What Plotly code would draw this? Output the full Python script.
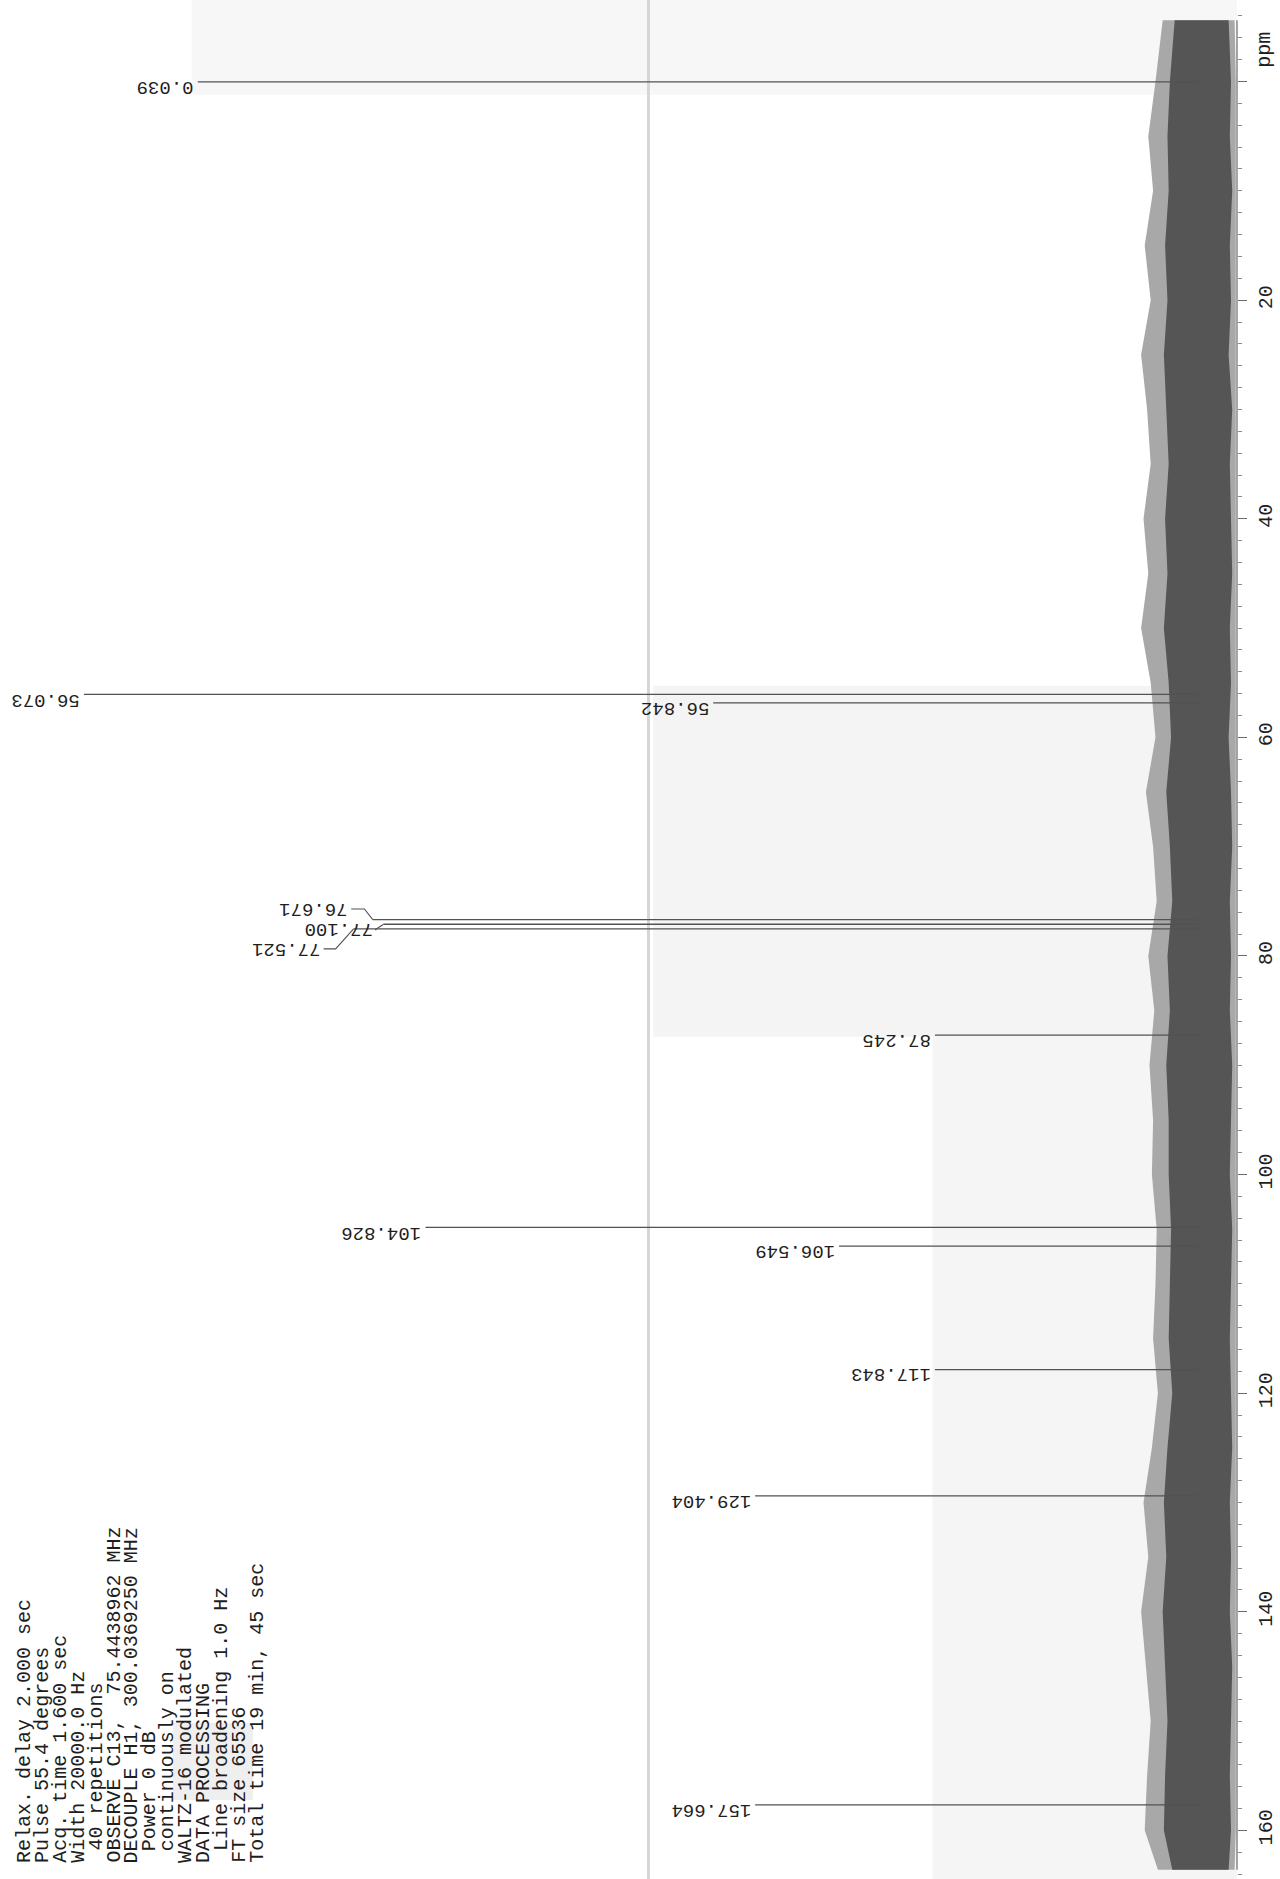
import plotly.graph_objects as go

# ---- data -------------------------------------------------------------
# 13C shifts of the labelled peaks (ppm) and their relative heights
peak_ppm = [0.039, 56.073, 56.842, 76.671, 77.100, 77.521, 87.245,
            104.826, 106.549, 117.843, 129.404, 157.664]
peak_height = [83.5, 93.0, 40.5, 68.9, 68.0, 70.5, 22.0,
               64.5, 30.0, 22.0, 37.0, 37.0]

# baseline noise envelope (relative intensity) along the shift axis
noise_ppm = [-5.6, 0, 5, 10, 15, 20, 25, 30, 35, 40, 45, 50, 55, 60, 65, 70,
             75, 80, 85, 90, 95, 100, 105, 110, 115, 120, 125, 130, 135, 140,
             145, 150, 155, 160, 163.6]
noise_outer_left = [3.0, 3.6, 4.2, 3.8, 4.5, 4.0, 4.8, 4.3, 4.0, 4.6, 4.2, 4.8,
                    4.0, 3.6, 4.4, 3.8, 3.5, 4.2, 3.7, 4.1, 3.8, 3.9, 3.5, 3.6,
                    3.8, 3.4, 3.9, 4.6, 4.2, 4.8, 4.4, 4.0, 4.3, 4.5, 3.4]
noise_inner_left = [2.0, 2.4, 2.6, 2.5, 2.8, 2.6, 2.9, 2.7, 2.5, 2.8, 2.6, 2.9,
                    2.5, 2.3, 2.7, 2.4, 2.2, 2.6, 2.4, 2.7, 2.5, 2.5, 2.3, 2.4,
                    2.5, 2.2, 2.6, 2.9, 2.7, 3.0, 2.8, 2.6, 2.8, 2.9, 2.2]
noise_inner_right = [-2.5, -2.7, -2.6, -2.8, -2.6, -2.7, -2.5, -2.8, -2.6, -2.7,
                     -2.8, -2.6, -2.7, -2.5, -2.7, -2.8, -2.6, -2.7, -2.6, -2.8,
                     -2.7, -2.6, -2.8, -2.7, -2.6, -2.7, -2.8, -2.6, -2.7, -2.6,
                     -2.8, -2.7, -2.6, -2.7, -2.5]
noise_outer_right = [-3.0, -3.1, -3.1, -3.1, -3.1, -3.1, -3.1, -3.1, -3.1, -3.1,
                     -3.1, -3.1, -3.1, -3.1, -3.1, -3.1, -3.1, -3.1, -3.1, -3.1,
                     -3.1, -3.1, -3.1, -3.1, -3.1, -3.1, -3.1, -3.1, -3.1, -3.1,
                     -3.1, -3.1, -3.1, -3.1, -3.0]

major_ticks = [0, 20, 40, 60, 80, 100, 120, 140, 160]
major_labels = ["", "20", "40", "60", "80", "100", "120", "140", "160"]

acq_params = [
    "Relax. delay 2.000 sec",
    "Pulse 55.4 degrees",
    "Acq. time 1.600 sec",
    "Width 20000.0 Hz",
    "\u00a040 repetitions",
    "OBSERVE C13,\u00a0\u00a075.4438962 MHz",
    "DECOUPLE H1, 300.0369250 MHz",
    "\u00a0Power 0 dB",
    "\u00a0continuously on",
    "WALTZ-16 modulated",
    "DATA PROCESSING",
    "\u00a0Line broadening 1.0 Hz",
    "FT size 65536",
    "Total time 19 min, 45 sec",
]

# ---- page geometry ----------------------------------------------------
W, H = 1280, 1879
R_MARGIN = 43
PLOT_W = W - R_MARGIN
X_RANGE = [100, -3.2]          # intensity, growing to the left
Y_RANGE = [164.45, -7.46]      # ppm, growing downwards
FONT = "Liberation Mono"
INK = "#1e1e1e"
LINE = "#525252"

# label placement for the crowded CDCl3 triplet (label ppm, label edge, elbow)
triplet_layout = {
    76.671: (75.70, 70.9, 69.6),
    77.100: (77.60, 68.8, 68.7),
    77.521: (79.35, 73.2, 72.0),
}

fig = go.Figure()

# baseline noise: lighter outer envelope, darker core
fig.add_trace(go.Scatter(
    x=noise_outer_left + noise_outer_right[::-1],
    y=noise_ppm + noise_ppm[::-1],
    fill="toself", fillcolor="#a8a8a8", mode="lines",
    line=dict(width=0), hoverinfo="skip", showlegend=False))
fig.add_trace(go.Scatter(
    x=noise_inner_left + noise_inner_right[::-1],
    y=noise_ppm + noise_ppm[::-1],
    fill="toself", fillcolor="#555555", mode="lines",
    line=dict(width=0), hoverinfo="skip", showlegend=False))

# peaks as sticks from the baseline
px, py = [], []
for p, h in zip(peak_ppm, peak_height):
    px += [0, h, None]
    py += [p, p, None]
fig.add_trace(go.Scatter(x=px, y=py, mode="lines",
                         line=dict(color=LINE, width=1.3),
                         hoverinfo="skip", showlegend=False))

# leader lines for the triplet
lx, ly = [], []
for p, h in zip(peak_ppm, peak_height):
    if p in triplet_layout:
        lp, le, el = triplet_layout[p]
        lx += [le - 0.2, el, h, None]
        ly += [lp, lp, p, None]
fig.add_trace(go.Scatter(x=lx, y=ly, mode="lines",
                         line=dict(color=LINE, width=1.1),
                         hoverinfo="skip", showlegend=False))

annotations = []
for p, h in zip(peak_ppm, peak_height):
    label = f"{p:.3f}"
    if p in triplet_layout:
        lp, le, _ = triplet_layout[p]
        annotations.append(dict(x=le, y=lp, xref="x", yref="y", text=label,
                                showarrow=False, textangle=180,
                                xanchor="right", yanchor="middle",
                                borderpad=0,
                                font=dict(family=FONT, size=19, color=INK)))
    else:
        annotations.append(dict(x=h, y=p, xref="x", yref="y", text=label,
                                showarrow=False, textangle=180,
                                xanchor="right", yanchor="middle",
                                xshift=-2, yshift=-5,
                                font=dict(family=FONT, size=19, color=INK)))

# unit label at the top of the shift axis
annotations.append(dict(x=1, y=-2.9, xref="paper", yref="y", text="ppm",
                        showarrow=False, textangle=-90, xanchor="center",
                        yanchor="middle", xshift=28, borderpad=0,
                        font=dict(family=FONT, size=20, color=INK)))

# acquisition parameters block
for i, line in enumerate(acq_params):
    annotations.append(dict(x=0, y=0, xref="paper", yref="paper", text=line,
                            showarrow=False, textangle=-90,
                            xanchor="center", yanchor="bottom",
                            xshift=24 + 17.9 * i, yshift=14,
                            font=dict(family=FONT, size=20, color=INK)))

shapes = [
    # faint grey paper patches
    dict(type="rect", xref="x", yref="y", x0=84, x1=-3.2, y0=-7.46, y1=1.2,
         fillcolor="#f7f7f7", line=dict(width=0), layer="below"),
    dict(type="rect", xref="x", yref="y", x0=45.5, x1=-3.2, y0=55.3, y1=87.4,
         fillcolor="#f4f4f4", line=dict(width=0), layer="below"),
    dict(type="rect", xref="x", yref="y", x0=22.2, x1=-3.2, y0=87.4, y1=164.45,
         fillcolor="#f5f5f5", line=dict(width=0), layer="below"),
    # fold crease
    dict(type="line", xref="x", yref="y", x0=45.9, x1=45.9, y0=-7.46, y1=164.45,
         line=dict(color="#d6d6d6", width=3), layer="below"),
    # shift axis line
    dict(type="line", xref="paper", yref="y", x0=1, x1=1, y0=-5.6, y1=163.6,
         line=dict(color="#6a6a6a", width=1.2)),
    # grey smudge over part of the parameter block
    dict(type="rect", xref="paper", yref="paper",
         x0=173 / PLOT_W, x1=253 / PLOT_W, y0=1 - 1800 / H, y1=1 - 1723 / H,
         fillcolor="rgba(225,225,225,0.55)", line=dict(width=0), layer="above"),
]

fig.update_layout(
    width=W, height=H,
    margin=dict(l=0, r=R_MARGIN, t=0, b=0, autoexpand=False),
    paper_bgcolor="white", plot_bgcolor="white",
    showlegend=False,
    xaxis=dict(range=X_RANGE, visible=False, fixedrange=True, automargin=False),
    yaxis=dict(range=Y_RANGE, side="right", showgrid=False, zeroline=False,
               automargin=False,
               showline=False, ticks="outside", ticklen=9, tickwidth=1.2,
               tickcolor="#6a6a6a", tickmode="array", tickvals=major_ticks,
               ticktext=major_labels, tickangle=-90, ticklabelstandoff=1,
               tickfont=dict(family=FONT, size=20, color=INK),
               minor=dict(ticks="outside", ticklen=4, tickcolor="#8a8a8a",
                          tickmode="linear", tick0=0, dtick=2),
               fixedrange=True),
    annotations=annotations,
    shapes=shapes,
)

fig.write_html("out.html")
